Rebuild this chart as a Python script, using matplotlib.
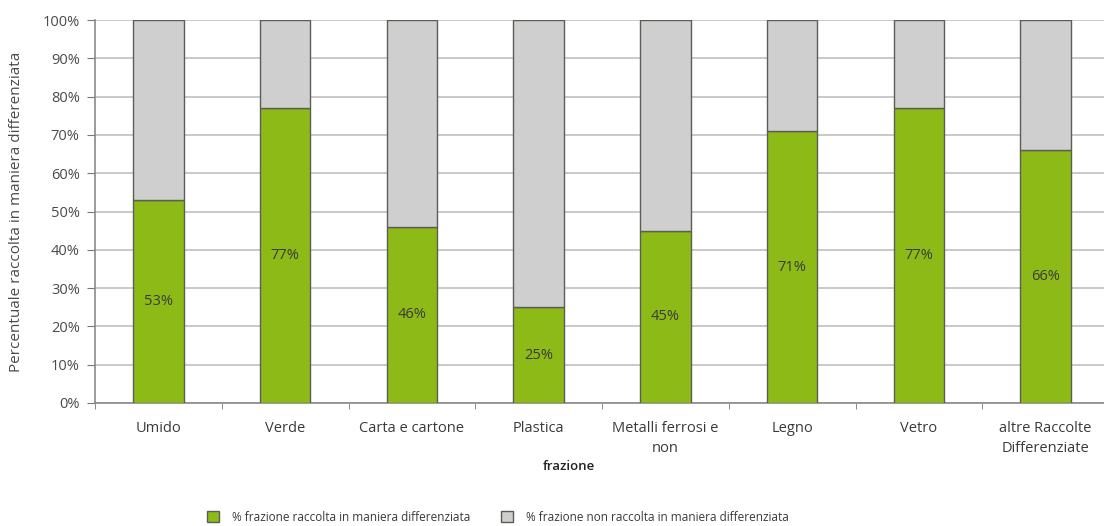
import matplotlib.pyplot as plt
import numpy as np

plt.rcParams['font.family'] = ['Open Sans', 'DejaVu Sans']

# frazioni merceologiche e quota raccolta in maniera differenziata (%)
categorie = ['Umido', 'Verde', 'Carta e cartone', 'Plastica',
             'Metalli ferrosi e\nnon', 'Legno', 'Vetro',
             'altre Raccolte\nDifferenziate']
differenziata = [53, 77, 46, 25, 45, 71, 77, 66]
non_differenziata = [100 - v for v in differenziata]

verde = '#8dba16'
grigio = '#cfcfcf'
bordo = '#5a5f55'
testo = '#3a3a3a'

fig = plt.figure(figsize=(11.04, 5.26), dpi=100)
ax = fig.add_axes([95 / 1104, 123 / 526, 1014 / 1104, 383 / 526])

x = np.arange(len(categorie))
ax.bar(x, differenziata, width=0.40, color=verde, edgecolor=bordo,
       linewidth=1.0, zorder=3,
       label='% frazione raccolta in maniera differenziata')
ax.bar(x, non_differenziata, width=0.40, bottom=differenziata, color=grigio,
       edgecolor=bordo, linewidth=1.0, zorder=3,
       label='% frazione non raccolta in maniera differenziata')

# etichette percentuali a metà della barra verde
for xi, v in zip(x, differenziata):
    ax.text(xi, v / 2, f'{v}%', ha='center', va='center', fontsize=10.5,
            color=testo, zorder=4)

ax.set_xlim(-0.5, len(categorie) - 0.5)
ax.set_ylim(0, 100)
ax.set_yticks(np.arange(0, 101, 10))
ax.set_yticklabels([f'{t}%' for t in range(0, 101, 10)])
ax.yaxis.grid(True, color='#c9c9c9', linewidth=1.4, zorder=0)

ax.set_xticks(x)
ax.set_xticklabels(categorie, linespacing=1.45)
ax.set_xticks(np.arange(-0.5, len(categorie)), minor=True)
ax.tick_params(axis='x', which='major', length=0, pad=13, labelsize=10.5,
               labelcolor=testo)
ax.tick_params(axis='x', which='minor', length=4, color='#777777',
               direction='out')
ax.tick_params(axis='y', length=6, color='#777777', pad=5, labelsize=10.5,
               labelcolor='#4a4a4a')

for side in ['top', 'right']:
    ax.spines[side].set_visible(False)
ax.spines['left'].set_color('#8a8a8a')
ax.spines['bottom'].set_color('#8a8a8a')
ax.spines['left'].set_linewidth(1.2)
ax.spines['bottom'].set_linewidth(1.2)

ax.set_ylabel('Percentuale raccolta in maniera differenziata', fontsize=11,
              color='#4a4a4a')
ax.yaxis.set_label_coords(-0.070, 0.5)
ax.set_xlabel('frazione', fontsize=9.5, color='#222222', fontweight='semibold')
ax.xaxis.set_label_coords(0.467, -0.15)

fig.legend(loc='lower center', bbox_to_anchor=(0.451, -0.016), ncol=2,
           frameon=False, fontsize=8.5, handlelength=1.0, handleheight=1.1,
           columnspacing=2.6, handletextpad=1.1, labelcolor=testo)

plt.savefig('out.png', dpi=100)
